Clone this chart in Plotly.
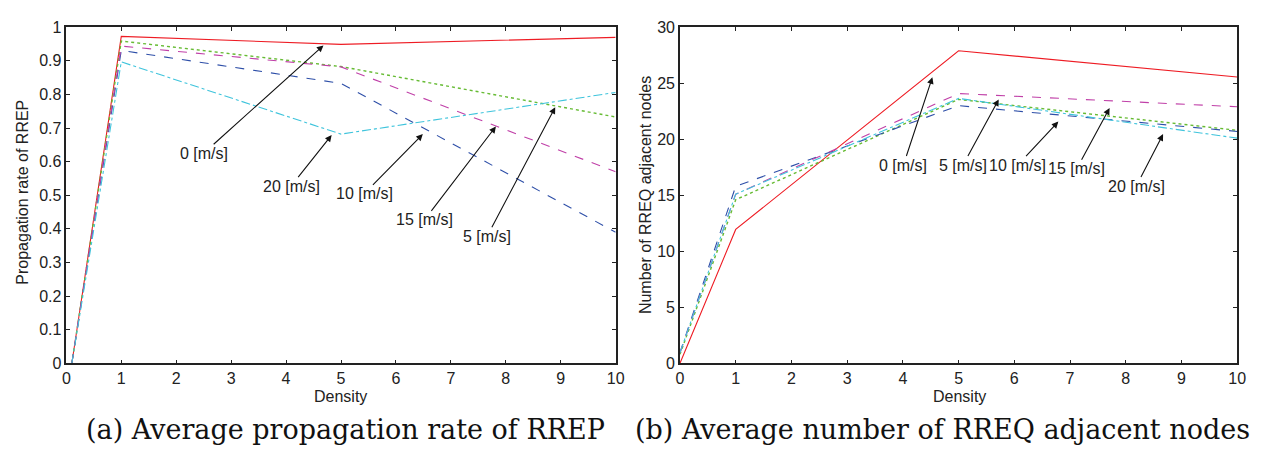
import plotly.graph_objects as go

# ---- data ----
speeds = ["0 [m/s]", "5 [m/s]", "10 [m/s]", "15 [m/s]", "20 [m/s]"]
density_a = [0.1, 1, 5, 10]
rrep_0 = [0.0, 0.973, 0.949, 0.970]
rrep_5 = [0.0, 0.959, 0.883, 0.733]
rrep_10 = [0.0, 0.931, 0.833, 0.390]
rrep_15 = [0.0, 0.944, 0.882, 0.570]
rrep_20 = [0.0, 0.897, 0.682, 0.806]

density_b = [0, 1, 5, 10]
rreq_0 = [0.0, 11.95, 27.9, 25.56]
rreq_5 = [0.8, 14.6, 23.56, 20.8]
rreq_10 = [0.95, 15.8, 23.0, 20.7]
rreq_15 = [0.95, 15.1, 24.08, 22.9]
rreq_20 = [0.95, 15.1, 23.65, 20.1]

x_ticks = list(range(0, 11))
ya_ticks = [round(i * 0.1, 1) for i in range(11)]
yb_ticks = [0, 5, 10, 15, 20, 25, 30]

styles = [
    dict(color="#ee1c24", dash="solid", width=1.1),
    dict(color="#66bb33", dash="dot", width=1.4),
    dict(color="#2e4fa8", dash="dash", width=1.1),
    dict(color="#c040a8", dash="dash", width=1.1),
    dict(color="#3fc4dc", dash="dashdot", width=1.1),
]

fig = go.Figure()
series_a = [rrep_0, rrep_5, rrep_10, rrep_15, rrep_20]
series_b = [rreq_0, rreq_5, rreq_10, rreq_15, rreq_20]
for name, ys, st in zip(speeds, series_a, styles):
    fig.add_trace(go.Scatter(x=density_a, y=ys, mode="lines", name=name, line=st,
                             xaxis="x", yaxis="y", showlegend=False))
for name, ys, st in zip(speeds, series_b, styles):
    fig.add_trace(go.Scatter(x=density_b, y=ys, mode="lines", name=name, line=st,
                             xaxis="x2", yaxis="y2", showlegend=False))

W, H = 1265, 457
yd = [1 - 369 / H, 1 - 20 / H]
axis_common = dict(showline=True, linecolor="#222", linewidth=1.5, mirror="ticks",
                   ticks="inside", ticklen=4, tickcolor="#222", tickwidth=1,
                   showgrid=False, zeroline=False,
                   tickfont=dict(family="Liberation Sans, Arial", size=16, color="#222"))

fig.update_layout(
    width=W, height=H, margin=dict(l=0, r=0, t=0, b=0),
    paper_bgcolor="white", plot_bgcolor="white",
    xaxis=dict(domain=[63 / W, 618 / W], range=[0, 10], tickvals=x_ticks, anchor="y", **axis_common),
    yaxis=dict(domain=yd, range=[0, 1], tickvals=ya_ticks, anchor="x", **axis_common),
    xaxis2=dict(domain=[683 / W, 1246 / W], range=[0, 10], tickvals=x_ticks, anchor="y2", **axis_common),
    yaxis2=dict(domain=yd, range=[0, 30], tickvals=yb_ticks, anchor="x2", **axis_common),
)

lab_font = dict(family="Liberation Sans, Arial", size=16, color="#222")
anns = []


def paper_text(text, px, py, font, angle=0):
    return dict(text=text, x=px / W, y=1 - py / H, xref="paper", yref="paper",
                xanchor="center", yanchor="middle", showarrow=False, textangle=angle, font=font)


# axis titles
anns.append(paper_text("Density", 340, 403, lab_font))
anns.append(paper_text("Density", 965, 403, lab_font))
anns.append(paper_text("Propagation rate of RREP", 19, 191, lab_font, -90))
anns.append(paper_text("Number of RREQ adjacent nodes", 648, 194, lab_font, -90))

# arrow labels: (text, text_x, text_y, head_x, head_y)
left_labels = [
    ("0 [m/s]", 2.50, 0.625, 4.68, 0.946),
    ("20 [m/s]", 4.09, 0.527, 4.83, 0.679),
    ("10 [m/s]", 5.42, 0.504, 6.49, 0.682),
    ("15 [m/s]", 6.52, 0.427, 7.82, 0.705),
    ("5 [m/s]", 7.66, 0.378, 8.90, 0.762),
]
right_labels = [
    ("0 [m/s]", 4.01, 17.7, 4.53, 25.54),
    ("5 [m/s]", 5.08, 17.7, 5.72, 23.56),
    ("10 [m/s]", 6.06, 17.7, 6.79, 21.58),
    ("15 [m/s]", 7.12, 17.37, 7.71, 22.79),
    ("20 [m/s]", 8.19, 15.82, 8.67, 20.46),
]
for lbls, xr, yr in [(left_labels, "x", "y"), (right_labels, "x2", "y2")]:
    for t, tx, ty, hx, hy in lbls:
        anns.append(dict(text=t, x=hx, y=hy, ax=tx, ay=ty, xref=xr, yref=yr, axref=xr, ayref=yr,
                         showarrow=True, arrowhead=2, arrowsize=1.2, arrowwidth=1.1,
                         arrowcolor="#111", font=lab_font, borderpad=0))

cap_font = dict(family="DejaVu Serif, Liberation Serif", size=27, color="#111")
anns.append(paper_text("(a) Average propagation rate of RREP", 345, 438, cap_font))
anns.append(paper_text("(b) Average number of RREQ adjacent nodes", 948, 438, cap_font))
fig.update_layout(annotations=anns)

fig.write_html("out.html")
